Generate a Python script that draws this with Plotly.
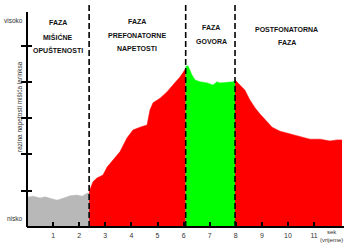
import plotly.graph_objects as go

# --- data ---
t_relax = [0.0, 0.23, 0.5, 0.69, 0.88, 1.15, 1.38, 1.65, 1.92, 2.11, 2.30, 2.38]
v_relax = [0.82, 0.85, 0.80, 0.83, 0.79, 0.74, 0.79, 0.86, 0.88, 0.85, 0.93, 0.94]

t_prephon = [2.38, 2.53, 2.68, 2.91, 3.07, 3.30, 3.56, 3.83, 4.06, 4.33, 4.60, 4.71,
             4.83, 5.10, 5.36, 5.59, 5.86, 6.05, 6.08]
v_prephon = [0.97, 1.25, 1.35, 1.43, 1.65, 1.85, 2.07, 2.45, 2.67, 2.75, 2.81, 3.22,
             3.42, 3.55, 3.72, 3.91, 4.13, 4.33, 4.38]

t_speech = [6.08, 6.17, 6.32, 6.44, 6.63, 6.90, 7.13, 7.28, 7.39, 7.66, 7.89, 7.97]
v_speech = [4.42, 4.44, 4.19, 4.05, 4.00, 3.97, 3.91, 4.00, 3.97, 3.98, 4.00, 4.02]

t_post = [7.97, 8.16, 8.35, 8.54, 8.74, 8.93, 9.12, 9.39, 9.69, 10.08, 10.46, 10.84,
          11.23, 11.61, 11.88, 12.07]
v_post = [4.05, 3.91, 3.77, 3.50, 3.28, 3.11, 2.95, 2.75, 2.64, 2.56, 2.48, 2.42,
          2.42, 2.37, 2.40, 2.40]

phase_bounds = [2.38, 6.08, 7.97]
phase_centers = [1.19, 4.21, 7.05, 9.96]
phase_labels = [
    ["FAZA", "MIŠIĆNE", "OPUŠTENOSTI"],
    ["FAZA", "PREFONATORNE", "NAPETOSTI"],
    ["FAZA", "GOVORA"],
    ["POSTFONATORNA", "FAZA"],
]
x_ticks = list(range(1, 12))
y_ticks = [1, 2, 3, 4, 5]

W, H = 344, 243
ML, MR, MT, MB = 27, 0, 4, 16
PW, PH = W - ML - MR, H - MT - MB

def py(ypix):
    return (H - MB - ypix) / PH

def px(xpix):
    return (xpix - ML) / PW

fig = go.Figure()
for tt, vv, col in [(t_relax, v_relax, "#b8b8b8"),
                    (t_prephon, v_prephon, "#ff0000"),
                    (t_speech, v_speech, "#00ff00"),
                    (t_post, v_post, "#ff0000")]:
    fig.add_trace(go.Scatter(x=tt, y=vv, mode="lines", fill="tozeroy",
                             fillcolor=col, line=dict(width=0.5, color=col),
                             hoverinfo="skip", showlegend=False))

# invisible trace to activate overlay y axis
fig.add_trace(go.Scatter(x=[0], y=[0], yaxis="y2", mode="markers",
                         marker=dict(opacity=0), showlegend=False, hoverinfo="skip"))

shapes = []
for b in phase_bounds:
    shapes.append(dict(type="line", xref="x", yref="paper", x0=b, x1=b, y0=0, y1=1,
                       line=dict(color="black", width=1.6, dash="6px,3px"), layer="above"))
shapes.append(dict(type="line", xref="paper", yref="paper", x0=0, x1=0, y0=0, y1=py(12),
                   line=dict(color="black", width=2), layer="above"))
shapes.append(dict(type="line", xref="paper", yref="paper", x0=0, x1=1, y0=0, y1=0,
                   line=dict(color="black", width=2), layer="above"))

ann = []
line_y = [[17, 31, 44], [16, 30, 43], [22, 36], [24, 37]]
for c, labs, ys in zip(phase_centers, phase_labels, line_y):
    for lab, yp in zip(labs, ys):
        ann.append(dict(x=c, xref="x", y=py(yp), yref="paper", text="<b>" + lab + "</b>",
                        showarrow=False, font=dict(size=7, color="#111",
                                                   family="Liberation Sans, Arial")))
small = dict(size=6.5, color="#333", family="Liberation Sans, Arial")
ann.append(dict(x=px(25), y=py(15), xref="paper", yref="paper", text="visoko",
                xanchor="right", showarrow=False, font=small))
ann.append(dict(x=px(25), y=py(224), xref="paper", yref="paper", text="nisko",
                xanchor="right", showarrow=False, font=small))
ann.append(dict(x=px(14), y=py(107), xref="paper", yref="paper",
                text="razina napetosti mišića larinksa", textangle=-90,
                showarrow=False, font=small))
tiny = dict(size=6, color="#333", family="Liberation Sans, Arial")
ann.append(dict(x=1.0, y=py(228.3), xref="paper", yref="paper", text="sek<br>(vrijeme)",
                xanchor="right", yanchor="top", align="center", showarrow=False,
                font=tiny, borderpad=0))

xmax = PW / 26.1
ymax = PH / 36.3

fig.update_layout(
    width=W, height=H,
    margin=dict(l=ML, r=MR, t=MT, b=MB, pad=0),
    paper_bgcolor="white", plot_bgcolor="white",
    xaxis=dict(range=[0, xmax], tickvals=x_ticks, ticktext=[str(v) for v in x_ticks],
               ticks="inside", ticklen=5, tickwidth=2, tickcolor="black",
               ticklabelstandoff=3,
               showgrid=False, zeroline=False, showline=False,
               tickfont=dict(size=7, color="#333", family="Liberation Sans, Arial")),
    yaxis=dict(range=[0, ymax], tickvals=y_ticks, ticktext=[""] * len(y_ticks),
               ticks="outside", ticklen=5, tickwidth=2, tickcolor="black",
               showgrid=False, zeroline=False, showline=False),
    yaxis2=dict(range=[0, ymax], overlaying="y", side="left", anchor="x",
                tickvals=y_ticks, ticktext=[""] * len(y_ticks),
                ticks="inside", ticklen=5, tickwidth=2, tickcolor="black",
                showgrid=False, zeroline=False, showline=False),
    shapes=shapes, annotations=ann,
)

fig.write_html("out.html", config={"displayModeBar": False},
               post_script="document.body.style.margin='0';document.body.style.overflow='hidden';")
